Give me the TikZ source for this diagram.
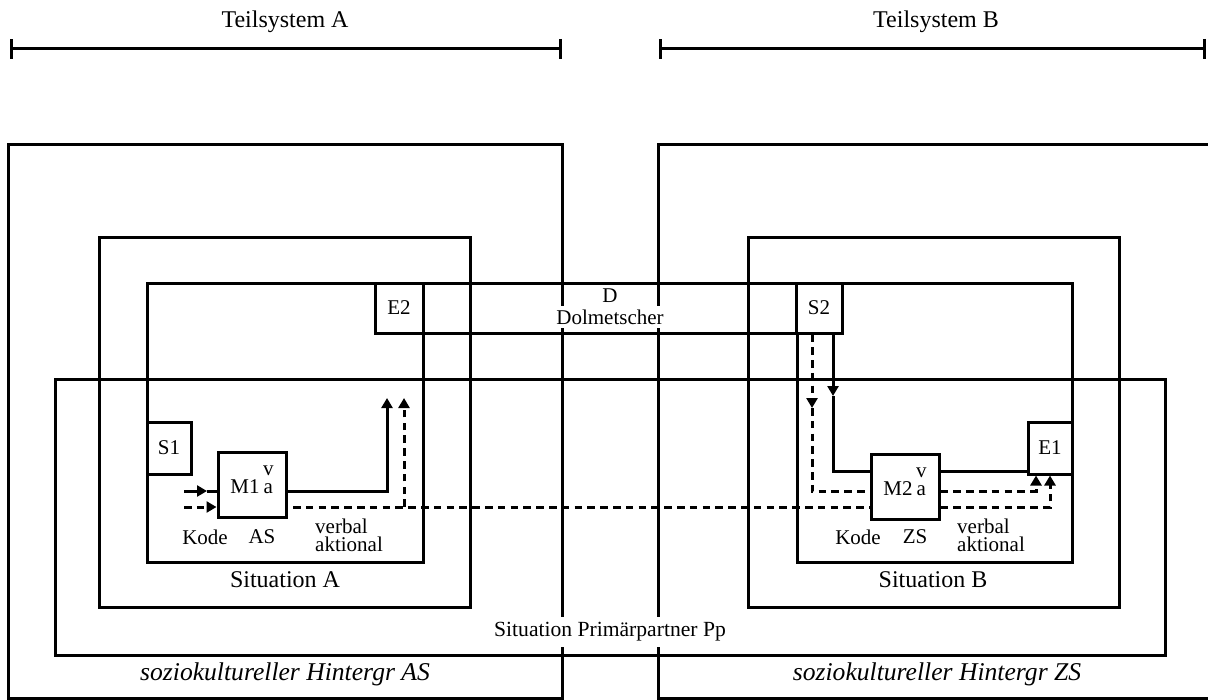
\documentclass[tikz,border=0pt]{standalone}
\usepackage{fontspec}
\setmainfont{Liberation Serif}
\usetikzlibrary{arrows.meta,positioning}

\begin{document}
\begin{tikzpicture}[
  x=0.5pt, y=-0.5pt,
  font=\fontsize{10.5}{12}\selectfont,
  >={Triangle[length=5pt,width=5.5pt]},
  frame/.style={line width=1.5pt},
  flow/.style={line width=1.5pt},
  dflow/.style={line width=1.5pt,dash pattern=on 3.8pt off 2.6pt},
  sysbar/.style={line width=1.5pt,{Bar[width=10pt]}-{Bar[width=10pt]}},
  unit/.style={draw,line width=1.5pt,fill=white,inner sep=0pt,
               minimum width=22pt,minimum height=26pt},
  proc/.style={draw,line width=1.5pt,fill=white,inner sep=0pt,
               minimum width=34pt,minimum height=32.5pt,
               text height=10.5pt,text depth=2pt},
  lbl/.style={inner sep=1pt,align=center},
  big/.style={font=\fontsize{12}{14}\selectfont},
  bg/.style={font=\fontsize{12.8}{15}\selectfont\itshape}
]
\useasboundingbox (0,0) rectangle (1208,700);

\node[lbl,big] (tsA) at (285,22) {Teilsystem A};
\node[lbl,big] (tsB) at (936,22) {Teilsystem B};
\draw[sysbar] (10,49) -- (562,49);
\draw[sysbar] (659,49) -- (1206,49);

\draw[frame] (8,145) rectangle (562,698);
\draw[frame] (658,145) rectangle (1214,698);
\draw[frame] (55,379) rectangle (1165,655);
\draw[frame] (99,237) rectangle (470,607);
\draw[frame] (748,237) rectangle (1119,607);
\draw[frame] (147,283) rectangle (423,562);
\draw[frame] (797,283) rectangle (1072,562);
\draw[frame] (375,283) rectangle (842,333);

\node[lbl,fill=white,inner sep=2pt] (dolm) at (610,317) {Dolmetscher};
\node[lbl,above=0pt of dolm] (dsym) {D};
\node[lbl,fill=white,inner sep=3pt,font=\fontsize{10.8}{12}\selectfont] (prim)
  at (610,632) {Situation Primärpartner Pp};
\node[lbl,big] (sitA) at (285,580) {Situation A};
\node[lbl,big] (sitB) at (933,580) {Situation B};
\node[lbl,bg] (bgA) at (285,674) {soziokultureller Hintergr AS};
\node[lbl,bg] (bgB) at (937,674) {soziokultureller Hintergr ZS};

\node[unit] (S1) at (169,448) {S1};
\node[unit,minimum width=24pt,minimum height=25pt] (E2) at (399,308) {E2};
\node[unit,minimum width=23pt,minimum height=25pt] (S2) at (819,308) {S2};
\node[unit] (E1) at (1050,448) {E1};
\node[proc] (M1) at (252,484.5)
  {M1\,\begin{tabular}[b]{@{}c@{}}v\\[-3pt]a\end{tabular}};
\node[proc] (M2) at (905,486.5)
  {M2\,\begin{tabular}[b]{@{}c@{}}v\\[-3pt]a\end{tabular}};

\node[lbl] (kodeA) at (205,537) {Kode};
\node[lbl] (asA) at (262,537) {AS};
\node[lbl,align=left] (vaA) at (349,535) {verbal\\[-3pt]aktional};
\node[lbl] (kodeB) at (858,537) {Kode};
\node[lbl] (zsB) at (915,537) {ZS};
\node[lbl,align=left] (vaB) at (991,535) {verbal\\[-3pt]aktional};

\coordinate (kA) at (184,491);
\coordinate (kAd) at (184,507);
\coordinate (tA) at (207,491);
\coordinate (dA) at (293,507);
\coordinate (oA) at (387,398);
\coordinate (oAd) at (404,398);
\coordinate (tB) at (833,396);
\coordinate (tBd) at (812,408);
\coordinate (cB) at (833,471);
\coordinate (cBd) at (812,491);

\draw[flow,->] (kA) -- (tA);
\draw[flow] (tA) -- (tA -| M1.west);
\draw[dflow,->] (kAd) -- (kAd -| M1.west);
\draw[flow,->] (M1.east |- kA) -| (oA);
\draw[dflow,->] (oAd |- dA) -- (oAd);
\draw[dflow] (dA) -- (dA -| M2.west);
\draw[dflow,->] (dA -| M2.east) -| (E1.south);

\draw[flow,->] (S2.south -| tB) -- (tB);
\draw[flow] (tB) |- (cB -| M2.west);
\draw[flow] (cB -| M2.east) -- (cB -| E1.west);
\draw[dflow,->] (S2.south -| tBd) -- (tBd);
\draw[dflow] (tBd) |- (cBd -| M2.west);
\draw[dflow,->] (cBd -| M2.east) -| ([xshift=-7pt]E1.south);
\end{tikzpicture}
\end{document}
